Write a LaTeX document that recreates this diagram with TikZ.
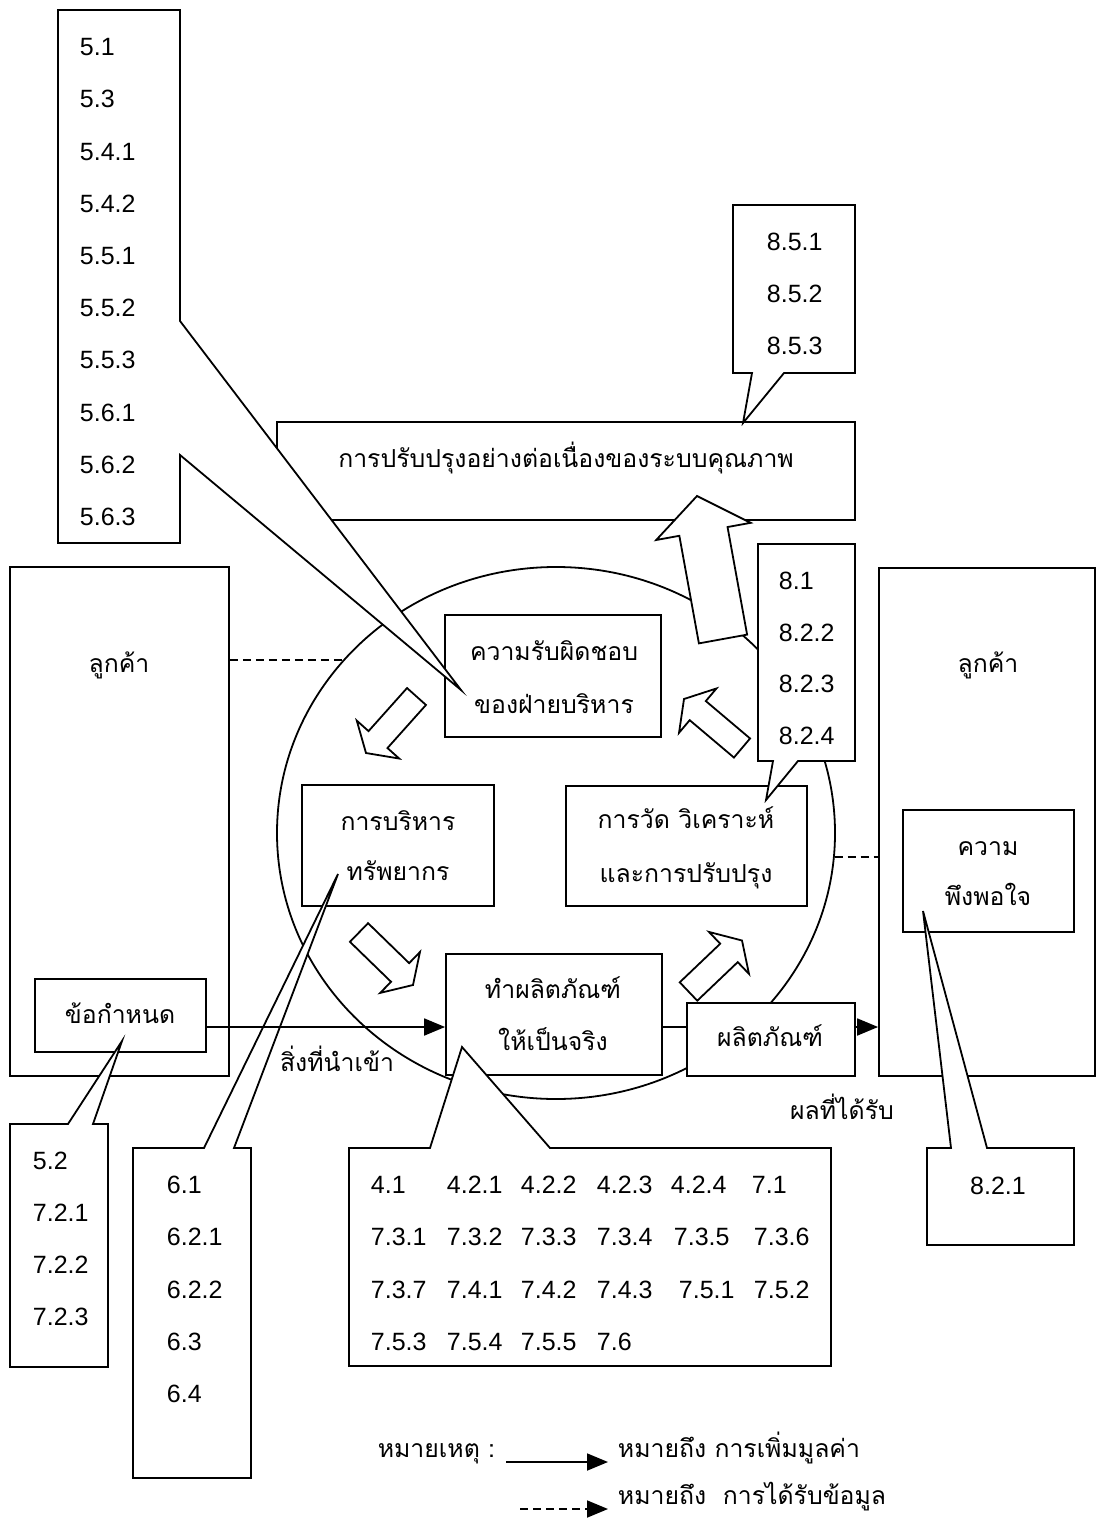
\documentclass[tikz,border=0pt]{standalone}
\usepackage{fontspec}
\setmainfont{Liberation Sans}
\newfontfamily\thai[Script=Thai]{Loma}
\usetikzlibrary{calc,fit,arrows.meta,shapes.geometric}

\newcommand\blockarrow[5]{%
  \coordinate (ba-t) at (#1);
  \coordinate (ba-p) at (#2);
  \coordinate (ba-b) at ($(ba-p)!#5*0.5pt!(ba-t)$);
  \draw[fill=white]
    ($(ba-t)!#3*0.5pt!90:(ba-p)$) -- ($(ba-b)!#3*0.5pt!90:(ba-p)$) --
    ($(ba-b)!#4*0.5pt!90:(ba-p)$) -- (ba-p) --
    ($(ba-b)!#4*0.5pt!-90:(ba-p)$) -- ($(ba-b)!#3*0.5pt!-90:(ba-p)$) --
    ($(ba-t)!#3*0.5pt!-90:(ba-p)$) -- cycle;}

\begin{document}
\begin{tikzpicture}[x=0.5pt,y=-0.5pt,line width=0.9pt,
  box/.style={draw,fill=white,inner sep=0pt},
  num/.style={font=\fontsize{12.5}{14}\selectfont,inner sep=0pt,anchor=base west},
  th/.style={font=\thai\fontsize{12.4}{14}\selectfont,inner sep=0pt,anchor=base},
  callout/.style={draw,fill=white,line join=miter},
  arr/.style={-{Triangle[length=10.5pt,width=8.5pt]}},
  dsh/.style={dash pattern=on 4pt off 2.5pt}]
\fill[white] (0,0) rectangle (1097,1519);
\useasboundingbox (0,0) rectangle (1097,1519);

% big improvement rectangle
\node[box,fit={(277,422) (855,520)}] (cqi) {};
% cycle
\node[draw,ellipse,inner sep=0pt,minimum width=279pt,minimum height=266pt] (cyc) at (556,833) {};

% customer boxes
\node[box,fit={(10,567) (229,1076)}] (custL) {};
\node[box,fit={(879,568) (1095,1076)}] (custR) {};
\node[box,fit={(35,979) (206,1052)}] (req) {};
\node[box,fit={(903,810) (1074,932)}] (sat) {};

% inner boxes
\node[box,fit={(445,615) (661,737)}] (mgmt) {};
\node[box,fit={(302,785) (494,906)}] (res) {};
\node[box,fit={(566,786) (807,906)}] (meas) {};
\node[box,fit={(446,954) (662,1075)}] (prod) {};
\node[box,fit={(687,1003) (855,1076)}] (out) {};

% dashed information links
\draw[dsh] (custL.east |- cyc.141.9) -- (cyc.141.9);
\draw[dsh] (cyc.-5.1) -- (custR.west |- cyc.-5.1);

% block arrows
\blockarrow{723,639}{697,496}{24.5}{48}{36}
\blockarrow{416.5,696.5}{366,753}{12.7}{28.5}{18}
\blockarrow{359,932.5}{413,985}{13}{28.5}{18}
\blockarrow{688.5,991.5}{742,940.5}{12.7}{29}{18}
\blockarrow{742,748}{684,699}{12.5}{29}{18}

% callouts
\draw[callout] (58,10) -- (180,10) -- (180,321) -- (461,690) -- (180,455) -- (180,543) -- (58,543) -- cycle;
\draw[callout] (733,205) -- (855,205) -- (855,373) -- (784,373) -- (743,423) -- (752,373) -- (733,373) -- cycle;
\draw[callout] (758,544) -- (855,544) -- (855,761) -- (798,761) -- (766,800) -- (773,761) -- (758,761) -- cycle;
\draw[callout] (10,1124) -- (68,1124) -- (122,1041) -- (93,1124) -- (108,1124) -- (108,1367) -- (10,1367) -- cycle;
\draw[callout] (133,1148) -- (204,1148) -- (338,874) -- (234,1148) -- (251,1148) -- (251,1478) -- (133,1478) -- cycle;
\draw[callout] (349,1148) -- (430,1148) -- (462,1047) -- (550,1148) -- (831,1148) -- (831,1366) -- (349,1366) -- cycle;
\draw[callout] (927,1148) -- (951,1148) -- (923,911) -- (987,1148) -- (1074,1148) -- (1074,1245) -- (927,1245) -- cycle;

% value-adding flow
\coordinate (flow) at (0,1027);
\draw[arr] (req.east |- flow) -- (prod.west |- flow);
\draw (prod.east |- flow) -- (out.west |- flow);
\draw[arr] (out.east |- flow) -- (custR.west |- flow);

% texts
\node[th] (tcqi) at (566,467) {การปรับปรุงอย่างต่อเนื่องของระบบคุณภาพ};
\node[th] (tcl) at (119,672) {ลูกค้า};
\node[th] (tcr) at (988,672) {ลูกค้า};
\node[th] (treq) at (120,1023) {ข้อกำหนด};
\node[th] (tsat1) at (988,855) {ความ};
\node[th] (tsat2) at (988,905) {พึงพอใจ};
\node[th] (tm1) at (554,660) {ความรับผิดชอบ};
\node[th] (tm2) at (554,713) {ของฝ่ายบริหาร};
\node[th] (tr1) at (398,830) {การบริหาร};
\node[th] (tr2) at (398,880) {ทรัพยากร};
\node[th] (tme1) at (686,828) {การวัด วิเคราะห์};
\node[th] (tme2) at (686,882) {และการปรับปรุง};
\node[th] (tp1) at (553,998) {ทำผลิตภัณฑ์};
\node[th] (tp2) at (553,1050) {ให้เป็นจริง};
\node[th] (tout) at (770,1046) {ผลิตภัณฑ์};
\node[th] (tin) at (337,1071) {สิ่งที่นำเข้า};
\node[th] (tres) at (842,1119) {ผลที่ได้รับ};

% clause numbers
\foreach \t [count=\i] in {5.1,5.3,5.4.1,5.4.2,5.5.1,5.5.2,5.5.3,5.6.1,5.6.2,5.6.3}
  \node[num] (na\i) at (79,{3.5+52.2*\i}) {\t};
\foreach \t [count=\i] in {8.5.1,8.5.2,8.5.3}
  \node[num] (nb\i) at (766,{198.5+52*\i}) {\t};
\foreach \t [count=\i] in {8.1,8.2.2,8.2.3,8.2.4}
  \node[num] (nc\i) at (778,{537.8+51.7*\i}) {\t};
\foreach \t [count=\i] in {5.2,7.2.1,7.2.2,7.2.3}
  \node[num] (nd\i) at (32,{1117.5+52*\i}) {\t};
\foreach \t [count=\i] in {6.1,6.2.1,6.2.2,6.3,6.4}
  \node[num] (ne\i) at (166,{1141.25+52.25*\i}) {\t};
\foreach \t/\c/\r [count=\i] in {4.1/370/0,4.2.1/446/0,4.2.2/520/0,4.2.3/596/0,4.2.4/670/0,7.1/751/0,
  7.3.1/370/1,7.3.2/446/1,7.3.3/520/1,7.3.4/596/1,7.3.5/673/1,7.3.6/753/1,
  7.3.7/370/2,7.4.1/446/2,7.4.2/520/2,7.4.3/596/2,7.5.1/678/2,7.5.2/753/2,
  7.5.3/370/3,7.5.4/446/3,7.5.5/520/3,7.6/596/3}
  \node[num] (nf\i) at (\c,{1193.5+52.3*\r}) {\t};
\node[num,anchor=base] (ng) at (998,1194.5) {8.2.1};

% legend
\node[th,anchor=base east] (lgh) at (496,1457) {หมายเหตุ :};
\coordinate (lga) at (506,1462);
\coordinate (lgb) at (608,1462);
\draw[arr] (lga) -- (lgb);
\node[th,anchor=base west] (lgt1) at (617,1457) {หมายถึง การเพิ่มมูลค่า};
\coordinate (lgc) at (520,1509);
\coordinate (lgd) at (608,1509);
\draw[arr,dsh] (lgc) -- (lgd);
\node[th,anchor=base west] (lgt2) at (617,1504) {หมายถึง\ \ การได้รับข้อมูล};
\end{tikzpicture}
\end{document}
